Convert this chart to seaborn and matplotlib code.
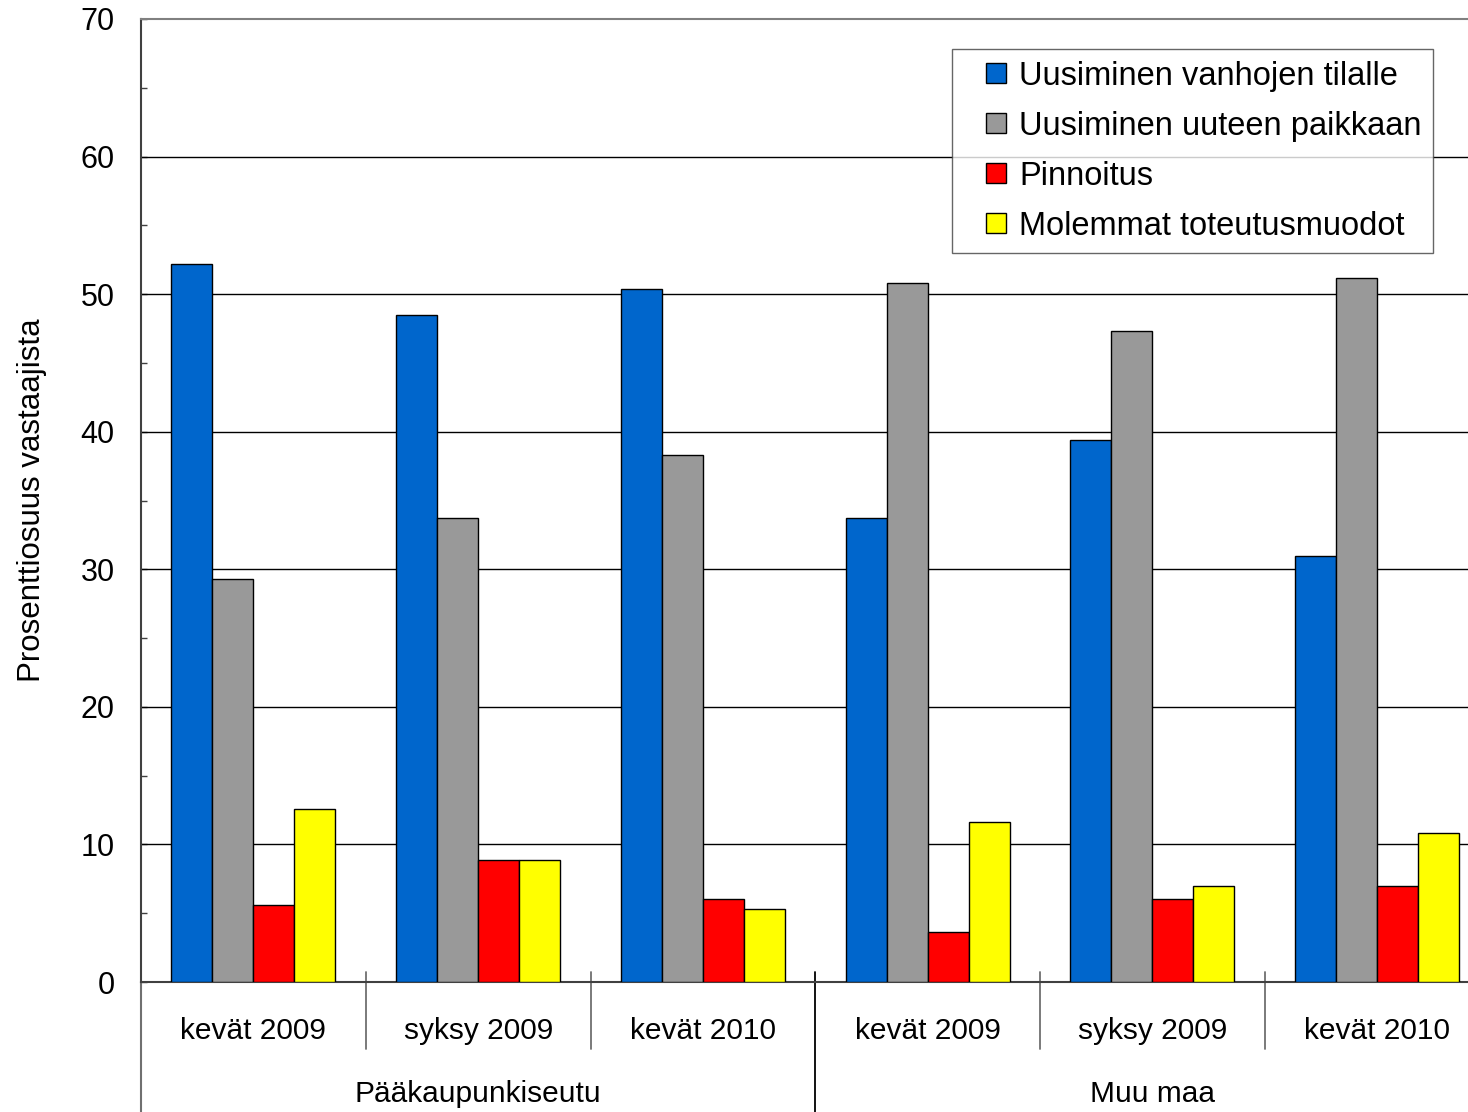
import matplotlib
matplotlib.use("Agg")
import matplotlib.pyplot as plt
import matplotlib.transforms as mtransforms
from matplotlib.lines import Line2D
import seaborn as sns
import pandas as pd

# ---- data ----
regions = ["Pääkaupunkiseutu", "Muu maa"]
periods = ["kevät 2009", "syksy 2009", "kevät 2010"]
series = ["Uusiminen vanhojen tilalle", "Uusiminen uuteen paikkaan",
          "Pinnoitus", "Molemmat toteutusmuodot"]
vanhojen = [52.2, 48.5, 50.4, 33.7, 39.4, 31.0]
uuteen = [29.3, 33.7, 38.3, 50.8, 47.3, 51.2]
pinnoitus = [5.6, 8.9, 6.0, 3.6, 6.0, 7.0]
molemmat = [12.6, 8.9, 5.3, 11.6, 7.0, 10.8]
colors = ["#0066CC", "#999999", "#FF0000", "#FFFF00"]

groups = [f"{r}|{p}" for r in regions for p in periods]
rows = []
for s, vals in zip(series, [vanhojen, uuteen, pinnoitus, molemmat]):
    for g, v in zip(groups, vals):
        rows.append({"group": g, "series": s, "value": v})
df = pd.DataFrame(rows)

sns.set_style("white")
plt.rcParams["font.family"] = ["Liberation Sans", "DejaVu Sans"]
plt.rcParams["text.color"] = "black"
plt.rcParams["axes.labelcolor"] = "black"

FS = 21.5

fig = plt.figure(figsize=(14.68, 11.12), dpi=100)
ax = fig.add_axes([141 / 1468, 130 / 1112, 1 - 141 / 1468, 963 / 1112])

sns.barplot(data=df, x="group", y="value", hue="series", order=groups,
            hue_order=series, palette=colors, width=0.73, ax=ax,
            edgecolor="black", linewidth=1.0, saturation=1, legend=False,
            zorder=3)

ax.set_xlim(-0.5, 5.404)
ax.set_ylim(0, 70)
ax.set_yticks(range(0, 71, 10))
ax.set_yticks(range(5, 70, 10), minor=True)
ax.tick_params(axis="y", which="both", direction="in", length=4.5,
               width=1, colors="#404040", labelcolor="black",
               labelsize=FS + 0.5, pad=19, left=True)
ax.tick_params(axis="x", which="both", bottom=False, labelbottom=False)
for y in range(10, 61, 10):
    ax.axhline(y, color="black", linewidth=1, zorder=1)

ax.spines["right"].set_visible(False)
ax.spines["top"].set_color("#808080")
ax.spines["top"].set_linewidth(1.5)
ax.spines["left"].set_color("#404040")
ax.spines["left"].set_linewidth(1.5)
ax.spines["bottom"].set_color("#404040")
ax.spines["bottom"].set_linewidth(1.5)

ax.set_xlabel("")
ax.set_ylabel("Prosenttiosuus vastaajista", fontsize=FS + 1, labelpad=24)

trans = mtransforms.blended_transform_factory(ax.transData, ax.transAxes)
# category labels
for i, g in enumerate(groups):
    ax.text(i, -0.0505, g.split("|")[1], transform=trans, ha="center",
            va="center", fontsize=FS)
for j, r in enumerate(regions):
    ax.text(j * 3 + 1, -0.116, r, transform=trans, ha="center",
            va="center", fontsize=FS)

# separators
for xs in [0.5, 1.5, 3.5, 4.5]:
    ax.add_line(Line2D([xs, xs], [0.0104, -0.0696], transform=trans,
                       color="#707070", linewidth=1.3, clip_on=False))
ax.add_line(Line2D([2.5, 2.5], [0.0104, -0.135], transform=trans,
                   color="black", linewidth=1.3, clip_on=False))
ax.add_line(Line2D([-0.5, -0.5], [0, -0.135], transform=trans,
                   color="#707070", linewidth=1.5, clip_on=False))

handles = [Line2D([], [], linestyle="none", marker="s", markersize=14.4,
                  markerfacecolor=c, markeredgecolor="black",
                  markeredgewidth=1.0) for c in colors]
leg = ax.legend(handles, series, loc="upper left",
                bbox_to_anchor=((952 - 141) / (1468 - 141), 1 - (49 - 19) / 963),
                fontsize=23.5, frameon=True, fancybox=False, edgecolor="#404040",
                handlelength=2.0, handletextpad=-0.3,
                labelspacing=0.58, borderpad=0.36, borderaxespad=0)
leg.get_frame().set_linewidth(1.0)
leg.set_zorder(5)

fig.savefig("out.png", dpi=100, facecolor="white")
